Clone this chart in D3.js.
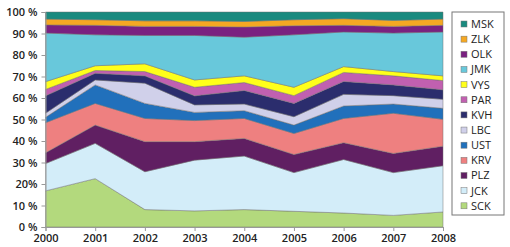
<!DOCTYPE html>
<html>
<head>
<meta charset="utf-8">
<script src="https://cdn.jsdelivr.net/npm/d3@7"></script>
<style>
  body { margin: 0; background: #fff; }
  svg text { font-family: "Open Sans", sans-serif; font-weight: 600; fill: #222; }
</style>
</head>
<body>
<div id="chart"></div>
<script>
var years = [2000, 2001, 2002, 2003, 2004, 2005, 2006, 2007, 2008];
var regions = ["SCK", "JCK", "PLZ", "KRV", "UST", "LBC", "KVH", "PAR", "VYS", "JMK", "OLK", "ZLK", "MSK"];
var yTickLabels = ["0 %", "10 %", "20%", "30 %", "40 %", "50 %", "60 %", "70 %", "80 %", "90 %", "100 %"];

// share per region, bottom to top
var SCK = [16.8, 22.5, 8.1, 7.5, 8.1, 7.3, 6.5, 5.4, 7.0];
var JCK = [12.7, 16.4, 17.6, 23.6, 24.9, 18.0, 24.9, 19.9, 21.5];
var PLZ = [5.0, 8.5, 14.0, 8.6, 8.2, 8.4, 7.8, 8.9, 9.1];
var KRV = [14.0, 10.1, 10.8, 9.8, 9.3, 9.8, 11.3, 18.7, 12.5];
var UST = [2.5, 8.6, 7.0, 3.8, 3.6, 3.9, 5.8, 4.3, 5.1];
var LBC = [1.9, 2.3, 9.4, 3.5, 3.1, 3.9, 5.4, 3.9, 4.2];
var KVH = [8.1, 3.1, 3.4, 4.2, 6.3, 6.2, 6.0, 5.0, 4.4];
var PAR = [3.0, 1.3, 2.0, 4.0, 3.7, 3.6, 4.2, 4.2, 4.3];
var VYS = [3.6, 2.2, 3.6, 3.4, 3.1, 3.9, 2.7, 2.0, 2.2];
var JMK = [22.6, 14.4, 13.2, 20.7, 18.0, 24.4, 16.1, 17.9, 20.4];
var OLK = [3.8, 4.4, 4.2, 4.2, 4.7, 4.2, 3.1, 3.1, 3.1];
var ZLK = [2.7, 2.6, 2.6, 2.6, 2.6, 2.8, 3.1, 2.8, 2.9];
var MSK = [3.3, 3.6, 4.1, 4.1, 4.4, 3.6, 3.1, 3.9, 3.3];

var series = {SCK: SCK, JCK: JCK, PLZ: PLZ, KRV: KRV, UST: UST, LBC: LBC, KVH: KVH,
              PAR: PAR, VYS: VYS, JMK: JMK, OLK: OLK, ZLK: ZLK, MSK: MSK};

var colors = {SCK: '#b3d97d', JCK: '#d3edf9', PLZ: '#601f62', KRV: '#ee8080',
              UST: '#2170bb', LBC: '#d0d0ea', KVH: '#2b2d6d', PAR: '#c160b0',
              VYS: '#ffff1a', JMK: '#68c8db', OLK: '#7a2180', ZLK: '#f5a823',
              MSK: '#1a8a7f'};

var table = years.map(function(y, i) {
  var row = {year: y};
  regions.forEach(function(r) { row[r] = series[r][i]; });
  return row;
});

var width = 510, height = 247;
var margin = {top: 12, right: 67, bottom: 20, left: 45.5};

var svg = d3.select("#chart").append("svg")
    .attr("width", width)
    .attr("height", height);

var x = d3.scaleLinear()
    .domain([2000, 2008])
    .range([margin.left, width - margin.right]);
var y = d3.scaleLinear()
    .domain([0, 1])
    .range([height - margin.bottom, margin.top]);

var stack = d3.stack().keys(regions).offset(d3.stackOffsetExpand);
var layers = stack(table);

var area = d3.area()
    .x(function(d) { return x(d.data.year); })
    .y0(function(d) { return y(d[0]); })
    .y1(function(d) { return y(d[1]); });

svg.append("g").selectAll("path")
  .data(layers)
  .enter().append("path")
  .attr("d", area)
  .style("fill", function(d) { return colors[d.key]; })
  .style("stroke", "#6f6f6f")
  .style("stroke-width", 0.6)
  .style("stroke-opacity", 0.8);

// axes
var yAxis = d3.axisLeft(y)
    .tickValues(d3.range(0, 1.01, 0.1))
    .tickSize(4)
    .tickFormat(function(d, i) { return yTickLabels[i]; });
var gy = svg.append("g")
    .attr("transform", "translate(" + margin.left + ",0)")
    .call(yAxis);
gy.select(".domain").attr("stroke", "#999");
gy.selectAll(".tick line").attr("stroke", "#999");
gy.selectAll("text").attr("x", -8).style("font-size", "11px").attr("dy", "0.36em");

var xAxis = d3.axisBottom(x)
    .tickValues(years)
    .tickSize(4)
    .tickFormat(d3.format("d"));
var gx = svg.append("g")
    .attr("transform", "translate(0," + (height - margin.bottom) + ")")
    .call(xAxis);
gx.select(".domain").attr("stroke", "#999");
gx.selectAll(".tick line").attr("stroke", "#999");
gx.selectAll("text").attr("y", 7).style("font-size", "11px");

// legend
var legend = svg.append("g").attr("transform", "translate(452,12)");
legend.append("rect")
  .attr("x", 0).attr("y", 0)
  .attr("width", 52).attr("height", 203)
  .style("fill", "#fff")
  .style("stroke", "#777")
  .style("stroke-width", 1);

var legendKeys = regions.slice().reverse();
var item = legend.selectAll(".item")
  .data(legendKeys)
  .enter().append("g")
  .attr("class", "item")
  .attr("transform", function(d, i) { return "translate(9," + (12 + i * 15.15) + ")"; });
item.append("rect")
  .attr("x", 0).attr("y", -3)
  .attr("width", 6).attr("height", 6)
  .style("fill", function(d) { return colors[d]; })
  .style("stroke", "#777")
  .style("stroke-width", 0.5);
item.append("text")
  .attr("x", 10)
  .attr("dy", "0.36em")
  .style("font-size", "11px")
  .style("font-weight", "400")
  .text(function(d) { return d; });
</script>
</body>
</html>
